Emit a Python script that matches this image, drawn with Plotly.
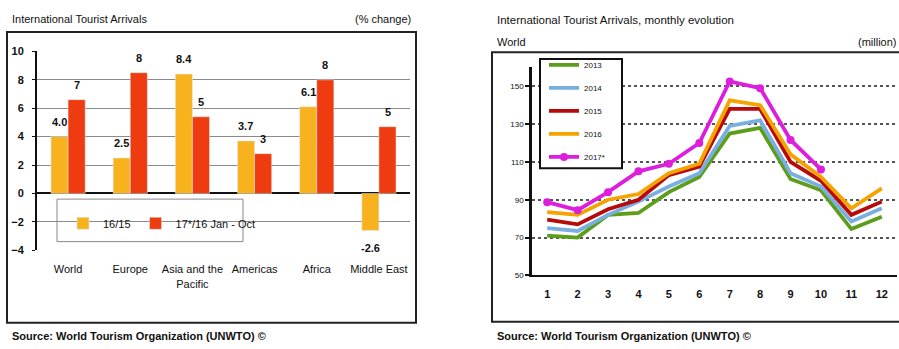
import plotly.graph_objects as go

# ---------------- data ----------------
regions = ["World", "Europe", "Asia and the<br>Pacific", "Americas", "Africa", "Middle East"]
chg_16_15 = [4.0, 2.5, 8.4, 3.7, 6.1, -2.6]
chg_17_16 = [6.6, 8.5, 5.4, 2.8, 8.0, 4.7]
lbl_16_15 = ["4.0", "2.5", "8.4", "3.7", "6.1", "-2.6"]
lbl_17_16 = ["7", "8", "5", "3", "8", "5"]

months = list(range(1, 13))
arr_2013 = [71, 70, 82, 83, 94, 102, 125, 128, 101, 95, 74.5, 81]
arr_2014 = [75, 73.5, 82, 89, 97, 104, 129, 132, 104, 97, 78.5, 85.5]
arr_2015 = [79.5, 77, 85, 90, 103, 107.5, 138, 138, 110, 100, 82, 89]
arr_2016 = [83.5, 82, 90, 93, 104, 109, 142.5, 140, 114, 102, 85.5, 96]
arr_2017 = [88.7, 84.5, 94, 105, 109, 120, 152.5, 149, 121.6, 106]

W, H = 899, 349
FONT = "Liberation Sans Narrow, Arial Narrow, Liberation Sans, Arial, sans-serif"

def px_x(x):
    return x / W

def px_y(y):
    return 1 - y / H

fig = go.Figure()

YEL = "#f7b21e"
RED = "#ee3c10"

fig.add_trace(go.Bar(
    x=regions, y=chg_16_15, name="16/15", marker_color=YEL,
    xaxis="x", yaxis="y", legend="legend",
))
fig.add_trace(go.Bar(
    x=regions, y=chg_17_16, name="17*/16 Jan - Oct", marker_color=RED,
    xaxis="x", yaxis="y", legend="legend",
))

line_series = [
    ("2013", arr_2013, "#5c9e1c", False),
    ("2014", arr_2014, "#79aee0", False),
    ("2015", arr_2015, "#b80a0a", False),
    ("2016", arr_2016, "#f5a300", False),
    ("2017*", arr_2017, "#dd1fdd", True),
]
for name, vals, col, mk in line_series:
    fig.add_trace(go.Scatter(
        x=months[:len(vals)], y=vals, name=name, mode="lines+markers" if mk else "lines",
        line=dict(color=col, width=3.8),
        marker=dict(size=8, color=col),
        xaxis="x2", yaxis="y2", legend="legend2", legendgroup=name,
    ))

fig.update_layout(
    width=W, height=H, margin=dict(l=0, r=0, t=0, b=0),
    paper_bgcolor="white", plot_bgcolor="white",
    font=dict(family=FONT, color="#111", size=11),
    barmode="group", bargap=0.45, bargroupgap=0,
    xaxis=dict(domain=[px_x(37), px_x(410)], anchor="y", showline=False, showgrid=False,
               ticks="", tickfont=dict(size=11, family=FONT), ticklabelstandoff=11),
    yaxis=dict(domain=[px_y(253), px_y(47)], anchor="x", range=[-4, 10], dtick=2,
               showgrid=True, gridcolor="#8a8a8a", gridwidth=1,
               zeroline=True, zerolinecolor="#111", zerolinewidth=2,
               showline=True, linecolor="#111", linewidth=2, ticks="outside", ticklen=3,
               tickcolor="#111", ticklabelstandoff=6,
               tickfont=dict(size=11, family=FONT, weight="bold")),
    xaxis2=dict(domain=[px_x(532), px_x(897)], anchor="y2", range=[0.5, 12.5], dtick=1,
                showgrid=False, showline=True, linecolor="#111", linewidth=2,
                ticks="", tickfont=dict(size=11, family=FONT, weight="bold"), ticklabelstandoff=7),
    yaxis2=dict(domain=[px_y(279), px_y(63.5)], anchor="x2", range=[50, 160],
                tickvals=[50, 70, 90, 110, 130, 150],
                showgrid=True, gridcolor="#555", griddash="dot", gridwidth=1.5,
                zeroline=False, showline=True, linecolor="#111", linewidth=2.5,
                ticks="outside", ticklen=4, tickcolor="#111", tickwidth=2,
                tickfont=dict(size=8, family=FONT)),
    legend=dict(orientation="h", x=px_x(63), y=px_y(210), xanchor="left", yanchor="top",
                bgcolor="rgba(0,0,0,0)", borderwidth=0, font=dict(size=11, family=FONT),
                itemwidth=30, traceorder="normal"),
    legend2=dict(orientation="v", x=px_x(544), y=px_y(46), xanchor="left", yanchor="top",
                 bgcolor="rgba(0,0,0,0)", borderwidth=0, font=dict(size=8, family=FONT),
                 tracegroupgap=4, itemwidth=30),
    showlegend=True,
)

shapes = [
    # left panel frame
    dict(type="rect", xref="paper", yref="paper", x0=px_x(7), x1=px_x(416), y0=px_y(328), y1=px_y(27),
         line=dict(color="#222", width=2)),
    # left legend box
    dict(type="rect", xref="paper", yref="paper", x0=px_x(57), x1=px_x(243), y0=px_y(244), y1=px_y(200),
         line=dict(color="#888", width=1), fillcolor="white", layer="below"),
    # right panel frame
    dict(type="rect", xref="paper", yref="paper", x0=px_x(492), x1=px_x(905), y0=px_y(327), y1=px_y(48),
         line=dict(color="#222", width=2)),
    # right legend box
    dict(type="rect", xref="paper", yref="paper", x0=px_x(540), x1=px_x(622), y0=px_y(168), y1=px_y(55),
         line=dict(color="#111", width=2), fillcolor="white", layer="above"),
]
fig.update_layout(shapes=shapes)

ann = [
    dict(text="International Tourist Arrivals", x=px_x(10), y=px_y(13), xanchor="left", yanchor="middle"),
    dict(text="(% change)", x=px_x(413), y=px_y(13), xanchor="right", yanchor="middle"),
    dict(text="<b>Source: World Tourism Organization (UNWTO) ©</b>", x=px_x(10), y=px_y(342),
         xanchor="left", yanchor="middle", font=dict(size=11)),
    dict(text="International Tourist Arrivals, monthly evolution", x=px_x(495), y=px_y(15),
         xanchor="left", yanchor="middle", font=dict(size=11.5)),
    dict(text="World", x=px_x(495), y=px_y(37), xanchor="left", yanchor="middle"),
    dict(text="(million)", x=px_x(899), y=px_y(37), xanchor="right", yanchor="middle"),
    dict(text="<b>Source: World Tourism Organization (UNWTO) ©</b>", x=px_x(495), y=px_y(342),
         xanchor="left", yanchor="middle", font=dict(size=11)),
]
for a in ann:
    a.update(xref="paper", yref="paper", showarrow=False)
    a.setdefault("font", dict(size=11))

# bar value labels, placed from the data through the axes
for vals, lbls, dx in ((chg_16_15, lbl_16_15, -8.6), (chg_17_16, lbl_17_16, 8.6)):
    for cat, v, t in zip(regions, vals, lbls):
        ann.append(dict(text="<b>" + t + "</b>", x=cat, y=v, xref="x", yref="y", showarrow=False,
                        xshift=dx, yshift=15 if v >= 0 else -18, xanchor="center", yanchor="middle",
                        font=dict(size=11, family=FONT, color="#111")))

fig.update_layout(annotations=ann)

fig.write_html("out.html")
